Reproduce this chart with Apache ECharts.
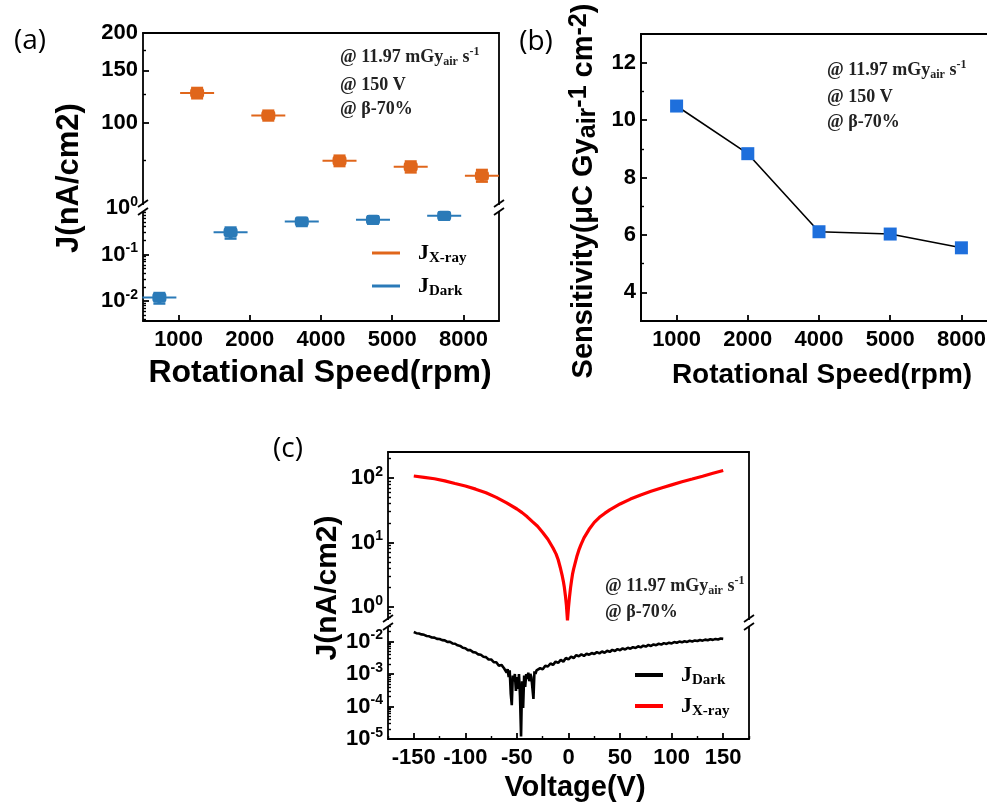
<!DOCTYPE html>
<html><head><meta charset="utf-8">
<script src="https://cdn.jsdelivr.net/npm/echarts@6/dist/echarts.min.js"></script>
<style>html,body{margin:0;padding:0;background:#fff}#c{width:987px;height:802px}</style>
</head><body><div id="c"></div>
<script>
// ---------- data ----------
const speeds = ['1000', '2000', '4000', '5000', '8000'];
const jXray = [126, 106, 74.8, 71.4, 66.7];
const jXrayErr = [5, 4, 3, 3, 3];
const jDark = [0.0118, 0.30, 0.51, 0.56, 0.68];
const jDarkErr = [0.003, 0.08, 0.1, 0.1, 0.12];
const sensitivity = [10.49, 8.83, 6.11, 6.03, 5.55];

const aUpperTicks = [100, 150, 200];
const aUpperMinor = [75, 125, 175];
const aLowerTicks = [0.01, 0.1, 1];
const bTicks = [4, 6, 8, 10, 12];
const bMinor = [5, 7, 9, 11];
const cUpperTicks = [1, 10, 100];
const cLowerTicks = [0.00001, 0.0001, 0.001, 0.01];
const cVoltTicks = [-150, -100, -50, 0, 50, 100, 150];
const cVoltMinor = [-175, -125, -75, -25, 25, 75, 125, 175];

const ivVolt = [-150,-140,-130,-120,-110,-100,-90,-80,-70,-60,-50,-45,-40,-35,-30,-25,-20,-15,-12,-10,-8,-6,-5,-4,-3,-2,-1,0,1,2,3,4,5,6,8,10,12,15,20,25,30,35,40,50,60,70,80,90,100,110,120,130,140,150];
const ivXray = [107,102,97,90,82,75,67,59,50,41,33,29,25,21,17.8,14.3,11.2,8.2,6.6,5.4,4.1,3.0,2.5,2.0,1.5,1.05,0.62,1.0,1.45,2.0,2.6,3.3,3.9,4.5,6.0,7.6,9.2,11.8,16,20.5,24.5,28.2,32,39.5,47,54.5,62,70,78,87,96,106,118,130];

const darkVolt = [-150,-147.5,-145,-142.5,-140,-137.5,-135,-132.5,-130,-127.5,-125,-122.5,-120,-117.5,-115,-112.5,-110,-107.5,-105,-102.5,-100,-97.5,-95,-92.5,-90,-87.5,-85,-82.5,-80,-77.5,-75,-72.5,-70,-67.5,-65,-62.5,
-61,-60,-59,-58,-57,-56,-55,-54,-53,-52,-51,-50,-49,-48,-47,-46,-45,-44,-43,-42,-41,-40,-39,-38,-37,-36,-35,-34,-33,-32,-31,-30,
-27.5,-25,-22.5,-20,-17.5,-15,-12.5,-10,-7.5,-5,-2.5,0,2.5,5,7.5,10,12.5,15,17.5,20,22.5,25,27.5,30,32.5,35,37.5,40,42.5,45,47.5,50,52.5,55,57.5,60,62.5,65,67.5,70,72.5,75,77.5,80,82.5,85,87.5,90,92.5,95,97.5,100,102.5,105,107.5,110,112.5,115,117.5,120,122.5,125,127.5,130,132.5,135,137.5,140,142.5,145,147.5,150];
const darkJ = [0.0195,0.0180,0.0176,0.0165,0.0160,0.0148,0.0144,0.0133,0.0131,0.0120,0.0119,0.0110,0.0108,0.0097,0.0098,0.0087,0.0085,0.0076,0.0073,0.0064,0.0062,0.0054,0.0054,0.0047,0.0046,0.0040,0.0039,0.0034,0.0033,0.0028,0.0028,0.0023,0.0023,0.0018,0.0019,0.0015,
0.0016,0.0011,0.0014,0.0008,0.0013,0.00025,0.00011,0.0009,0.0006,0.0010,0.0003,0.0008,0.00035,0.0010,0.0002,0.000012,0.0006,0.00009,0.0009,0.0004,0.0010,0.0007,0.0011,0.0006,0.0010,0.0008,0.0009,0.00017,0.0012,0.0010,0.0013,0.0012,
0.0015,0.0014,0.0018,0.0017,0.0021,0.0019,0.0024,0.0022,0.0027,0.0024,0.0031,0.0028,0.0034,0.0031,0.0038,0.0035,0.0040,0.0036,0.0042,0.0039,0.0044,0.0041,0.0047,0.0043,0.0049,0.0045,0.0052,0.0048,0.0055,0.0051,0.0058,0.0054,0.0061,0.0057,0.0064,0.0060,0.0067,0.0063,0.0071,0.0066,0.0074,0.0070,0.0078,0.0073,0.0081,0.0077,0.0085,0.0080,0.0089,0.0084,0.0092,0.0087,0.0096,0.0091,0.0099,0.0094,0.0102,0.0097,0.0105,0.0100,0.0108,0.0103,0.0111,0.0106,0.0114,0.0109,0.0117,0.0112,0.0120,0.0115,0.0123,0.0120];

// ---------- layout / style ----------
const SANS = 'Liberation Sans', SERIF = 'Liberation Serif';
const L = Math.log10;
const A = {left: 143, width: 356, top: 33, brk: 208, bot: 321};
const B = {left: 641, width: 356, top: 34, bot: 321};
const C = {left: 388, width: 361, top: 452, brk: 623, bot: 739};
const ORANGE = '#e0661b', BLUE = '#2a7ab8', BBLUE = '#1e6fdc';
const LW = 1.8;

function logMinor(min, max) {
  const out = [];
  for (let e = Math.floor(min) - 1; e <= Math.ceil(max); e++)
    for (let m = 2; m <= 9; m++) { const v = L(m) + e; if (v >= min && v <= max) out.push(v); }
  return out;
}
const tickRich = {
  b: {fontFamily: SANS, fontWeight: 'bold', fontSize: 22, lineHeight: 26, color: '#000'},
  p: {fontFamily: SANS, fontWeight: 'bold', fontSize: 14, lineHeight: 14, verticalAlign: 'top', color: '#000'}
};
const powLabel = v => '{b|10}{p|' + Math.round(v) + '}';
const lblStyle = {fontFamily: SANS, fontWeight: 'bold', fontSize: 22, color: '#000'};
const axLine = {show: true, onZero: false, lineStyle: {color: '#000', width: LW}};
const noLine = {show: false, onZero: false};

function mainY(grid, min, max, vals, fmt, rich) {
  return {type: 'value', gridIndex: grid, min, max, position: 'left',
    axisLine: axLine, splitLine: {show: false},
    axisTick: {show: true, inside: true, length: 6, customValues: vals, lineStyle: {color: '#000', width: LW}},
    axisLabel: Object.assign({customValues: vals, formatter: fmt, margin: 5}, lblStyle, rich ? {rich} : {})};
}
function minorY(grid, min, max, vals) {
  return {type: 'value', gridIndex: grid, min, max, position: 'left',
    axisLine: noLine, splitLine: {show: false}, axisLabel: {show: false},
    axisTick: {show: true, inside: true, length: 3, customValues: vals, lineStyle: {color: '#000', width: 1.4}}};
}
function rightY(grid, min, max) {
  return {type: 'value', gridIndex: grid, min, max, position: 'right',
    axisLine: axLine, splitLine: {show: false}, axisLabel: {show: false}, axisTick: {show: false}};
}
function frameX(grid, min, max, pos) {
  return {type: 'value', gridIndex: grid, min, max, position: pos,
    axisLine: axLine, splitLine: {show: false}, axisLabel: {show: false}, axisTick: {show: false}};
}

function errRender(params, api) {
  const x = api.value(0), y = api.value(1), lo = api.value(2), hi = api.value(3);
  const c = api.coord([x, y]), cl = api.coord([x, lo]), ch = api.coord([x, hi]);
  const col = api.visual('color');
  const hw = 17, bw = 7, bh = 5, cw = 6;
  return {type: 'group', children: [
    {type: 'line', shape: {x1: c[0] - hw, y1: c[1], x2: c[0] + hw, y2: c[1]}, style: {stroke: col, lineWidth: 2}},
    {type: 'line', shape: {x1: c[0], y1: ch[1], x2: c[0], y2: cl[1]}, style: {stroke: col, lineWidth: 4}},
    {type: 'line', shape: {x1: c[0] - cw, y1: ch[1], x2: c[0] + cw, y2: ch[1]}, style: {stroke: col, lineWidth: 2.5}},
    {type: 'line', shape: {x1: c[0] - cw, y1: cl[1], x2: c[0] + cw, y2: cl[1]}, style: {stroke: col, lineWidth: 2.5}},
    {type: 'rect', shape: {x: c[0] - bw, y: c[1] - bh, width: 2 * bw, height: 2 * bh, r: 3}, style: {fill: col}}
  ]};
}

const legRich = {
  j: {fontFamily: SERIF, fontWeight: 'bold', fontSize: 22, lineHeight: 26, color: '#000'},
  s: {fontFamily: SERIF, fontWeight: 'bold', fontSize: 15, lineHeight: 15, verticalAlign: 'bottom', color: '#000'}
};
const legName = {'J X-ray (a)': '{j|J}{s|X-ray}', 'J Dark (a)': '{j|J}{s|Dark}', 'J Dark (c)': '{j|J}{s|Dark}', 'J X-ray (c)': '{j|J}{s|X-ray}'};

const annRich = {
  sub: {fontFamily: SERIF, fontWeight: 'bold', fontSize: 12, lineHeight: 12, verticalAlign: 'bottom', fill: '#222'},
  sup: {fontFamily: SERIF, fontWeight: 'bold', fontSize: 12, lineHeight: 12, verticalAlign: 'top', fill: '#222'}
};
function txt(x, y, text, size, family, weight, opt) {
  return Object.assign({type: 'text', x, y, z: 120, style: Object.assign({
    text, fontSize: size, fontFamily: family, fontWeight: weight, fill: '#000',
    align: 'center', verticalAlign: 'middle'}, opt && opt.style || {})}, opt && opt.el || {});
}
function ann(x, y, text) {
  return txt(x, y, text, 18, SERIF, 'bold', {style: {align: 'left', fill: '#222', lineHeight: 22, rich: annRich}});
}
function brk(x, y) {
  return [
    {type: 'rect', z: 110, shape: {x: x - 7, y: y - 3, width: 14, height: 6}, style: {fill: '#fff'}},
    {type: 'line', z: 111, shape: {x1: x - 5, y1: y - 1, x2: x + 5, y2: y - 8}, style: {stroke: '#000', lineWidth: LW}},
    {type: 'line', z: 111, shape: {x1: x - 5, y1: y + 7, x2: x + 5, y2: y}, style: {stroke: '#000', lineWidth: LW}}
  ];
}

const aUpMin = L(52), aUpMax = L(200), aLoMin = L(0.0037), aLoMax = 0;
const cUpMin = L(0.566), cUpMax = L(252), cLoMin = -5, cLoMax = L(0.037);

const option = {
  backgroundColor: '#fff',
  animation: false,
  grid: [
    {left: A.left, width: A.width, top: A.top, height: A.brk - A.top, outerBoundsMode: 'none'},
    {left: A.left, width: A.width, top: A.brk, height: A.bot - A.brk, outerBoundsMode: 'none'},
    {left: B.left, width: B.width, top: B.top, height: B.bot - B.top, outerBoundsMode: 'none', show: true, borderColor: '#000', borderWidth: LW, backgroundColor: 'transparent'},
    {left: C.left, width: C.width, top: C.top, height: C.brk - C.top, outerBoundsMode: 'none'},
    {left: C.left, width: C.width, top: C.brk, height: C.bot - C.brk, outerBoundsMode: 'none'}
  ],
  xAxis: [
    frameX(0, 0.5, 5.5, 'top'),
    {type: 'value', gridIndex: 1, min: 0.5, max: 5.5, position: 'bottom', axisLine: axLine, splitLine: {show: false},
      axisTick: {show: true, inside: true, length: 6, customValues: [1, 2, 3, 4, 5], lineStyle: {color: '#000', width: LW}},
      axisLabel: Object.assign({customValues: [1, 2, 3, 4, 5], formatter: v => speeds[Math.round(v) - 1], margin: 8}, lblStyle)},
    {type: 'category', gridIndex: 2, data: speeds, boundaryGap: true, axisLine: axLine,
      axisTick: {show: true, inside: true, alignWithLabel: true, length: 6, lineStyle: {color: '#000', width: LW}},
      axisLabel: Object.assign({margin: 8}, lblStyle)},
    frameX(3, -175, 175, 'top'),
    {type: 'value', gridIndex: 4, min: -175, max: 175, position: 'bottom', axisLine: axLine, splitLine: {show: false},
      axisTick: {show: true, inside: true, length: 6, customValues: cVoltTicks, lineStyle: {color: '#000', width: LW}},
      axisLabel: Object.assign({customValues: cVoltTicks, margin: 8}, lblStyle)},
    {type: 'value', gridIndex: 4, min: -175, max: 175, position: 'bottom', axisLine: noLine, splitLine: {show: false},
      axisLabel: {show: false},
      axisTick: {show: true, inside: true, length: 3, customValues: cVoltMinor, lineStyle: {color: '#000', width: 1.4}}}
  ],
  yAxis: [
    mainY(0, aUpMin, aUpMax, aUpperTicks.map(L), v => String(Math.round(Math.pow(10, v)))),
    minorY(0, aUpMin, aUpMax, aUpperMinor.map(L)),
    rightY(0, aUpMin, aUpMax),
    mainY(1, aLoMin, aLoMax, aLowerTicks.map(L), powLabel, tickRich),
    minorY(1, aLoMin, aLoMax, logMinor(aLoMin, aLoMax)),
    rightY(1, aLoMin, aLoMax),
    mainY(2, 3, 13, bTicks, v => String(v)),
    minorY(2, 3, 13, bMinor),
    mainY(3, cUpMin, cUpMax, cUpperTicks.map(L), powLabel, tickRich),
    minorY(3, cUpMin, cUpMax, logMinor(cUpMin, cUpMax)),
    rightY(3, cUpMin, cUpMax),
    mainY(4, cLoMin, cLoMax, cLowerTicks.map(L), powLabel, tickRich),
    minorY(4, cLoMin, cLoMax, logMinor(cLoMin, cLoMax)),
    rightY(4, cLoMin, cLoMax)
  ],
  legend: [
    {data: ['J X-ray (a)', 'J Dark (a)'], orient: 'vertical', left: 367, top: 237, itemWidth: 28, itemHeight: 3, itemGap: 9,
      icon: 'rect', selectedMode: false, formatter: n => legName[n], textStyle: {rich: legRich, padding: [0, 0, 0, 13]}},
    {data: ['J Dark (c)', 'J X-ray (c)'], orient: 'vertical', left: 630, top: 659, itemWidth: 28, itemHeight: 4, itemGap: 7,
      icon: 'rect', selectedMode: false, formatter: n => legName[n], textStyle: {rich: legRich, padding: [0, 0, 0, 13]}}
  ],
  series: [
    {name: 'J X-ray (a)', type: 'custom', xAxisIndex: 0, yAxisIndex: 0, clip: false, itemStyle: {color: ORANGE},
      renderItem: errRender, encode: {x: 0, y: 1},
      data: jXray.map((v, i) => [i + 1 + 0.26, L(v), L(v - jXrayErr[i]), L(v + jXrayErr[i])])},
    {name: 'J Dark (a)', type: 'custom', xAxisIndex: 1, yAxisIndex: 3, clip: false, itemStyle: {color: BLUE},
      renderItem: errRender, encode: {x: 0, y: 1},
      data: jDark.map((v, i) => [i + 1 - 0.27, L(v), L(v - jDarkErr[i]), L(v + jDarkErr[i])])},
    {name: 'Sensitivity', type: 'line', xAxisIndex: 2, yAxisIndex: 6, data: sensitivity,
      symbol: 'rect', symbolSize: 13, itemStyle: {color: BBLUE}, lineStyle: {color: '#000', width: 1.6}},
    {name: 'J X-ray (c)', type: 'line', xAxisIndex: 3, yAxisIndex: 8, showSymbol: false, symbol: 'none',
      itemStyle: {color: '#ff0000'}, lineStyle: {color: '#ff0000', width: 3.2},
      data: ivVolt.map((v, i) => [v, L(ivXray[i])])},
    {name: 'J Dark (c)', type: 'line', xAxisIndex: 4, yAxisIndex: 11, showSymbol: false, symbol: 'none',
      itemStyle: {color: '#000'}, lineStyle: {color: '#000', width: 2.6},
      data: darkVolt.map((v, i) => [v, L(darkJ[i])])}
  ],
  graphic: [
    txt(30, 41, '(a)', 28, 'Open Sans', 'normal'),
    txt(536, 42, '(b)', 28, 'Open Sans', 'normal'),
    txt(288, 449, '(c)', 28, 'Open Sans', 'normal'),
    txt(69, 178, 'J(nA/cm2)', 31, SANS, 'bold', {el: {rotation: Math.PI / 2}}),
    txt(320, 373, 'Rotational Speed(rpm)', 32, SANS, 'bold'),
    txt(584, 191, 'Sensitivity(μC Gy{s|air}{p|-1} cm{p|-2})', 29, SANS, 'bold', {el: {rotation: Math.PI / 2}, style: {lineHeight: 34, rich: {
      s: {fontFamily: SANS, fontWeight: 'bold', fontSize: 25, lineHeight: 25, verticalAlign: 'bottom'},
      p: {fontFamily: SANS, fontWeight: 'bold', fontSize: 25, lineHeight: 25, verticalAlign: 'top'}}}}),
    txt(822, 375, 'Rotational Speed(rpm)', 28, SANS, 'bold'),
    txt(328, 588, 'J(nA/cm2)', 30, SANS, 'bold', {el: {rotation: Math.PI / 2}}),
    txt(575, 788, 'Voltage(V)', 29, SANS, 'bold'),
    ann(340, 57, '@ 11.97 mGy{sub|air} s{sup|-1}'),
    ann(340, 85, '@ 150 V'),
    ann(340, 109, '@ β-70%'),
    ann(827, 70, '@ 11.97 mGy{sub|air} s{sup|-1}'),
    ann(827, 97, '@ 150 V'),
    ann(827, 122, '@ β-70%'),
    ann(605, 586, '@ 11.97 mGy{sub|air} s{sup|-1}'),
    ann(605, 612, '@ β-70%')
  ].concat(brk(A.left, A.brk), brk(A.left + A.width, A.brk), brk(C.left, C.brk), brk(C.left + C.width, C.brk))
};

const chart = echarts.init(document.getElementById('c'), null, {renderer: 'canvas'});
chart.setOption(option);
</script>
</body></html>
